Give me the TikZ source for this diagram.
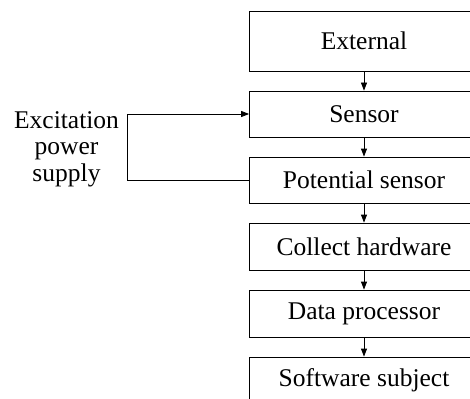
\documentclass[tikz,border=0pt]{standalone}
\usepackage{fontspec}
\setmainfont{Liberation Serif}
\usetikzlibrary{arrows.meta}
\begin{document}
\begin{tikzpicture}[x=1pt,y=1pt,
  box/.style={draw, line width=0.8pt, minimum width=229pt, inner sep=0pt,
    font=\fontsize{25.5}{28}\selectfont},
  arr/.style={line width=0.8pt, -{Triangle[length=8pt,width=6pt]}},
  lab/.style={align=center, inner sep=0pt, font=\fontsize{25.5}{26.5}\selectfont}]
\useasboundingbox (0,0) rectangle (470,-398);
\clip (0,0) rectangle (470,-398);
\node[box, minimum height=60pt] (ext) at (364,-41) {External};
\node[box, minimum height=46pt] (sen) at (364,-114) {Sensor};
\node[box, minimum height=46pt] (pot) at (364,-180) {Potential sensor};
\node[box, minimum height=47pt] (col) at (364,-246.5) {Collect hardware};
\node[box, minimum height=47pt] (dat) at (364,-313.5) {Data processor};
\node[box, minimum height=47pt] (sw) at (364,-380.5) {Software subject};
\node[lab] (exc) at (66.5,-149) {Excitation\\power\\supply};
\draw[arr] (ext) -- (sen);
\draw[arr] (sen) -- (pot);
\draw[arr] (pot) -- (col);
\draw[arr] (col) -- (dat);
\draw[arr] (dat) -- (sw);
\draw[arr] (pot.west) -- ++(-121.5,0) |- (sen.west);
\end{tikzpicture}
\end{document}
